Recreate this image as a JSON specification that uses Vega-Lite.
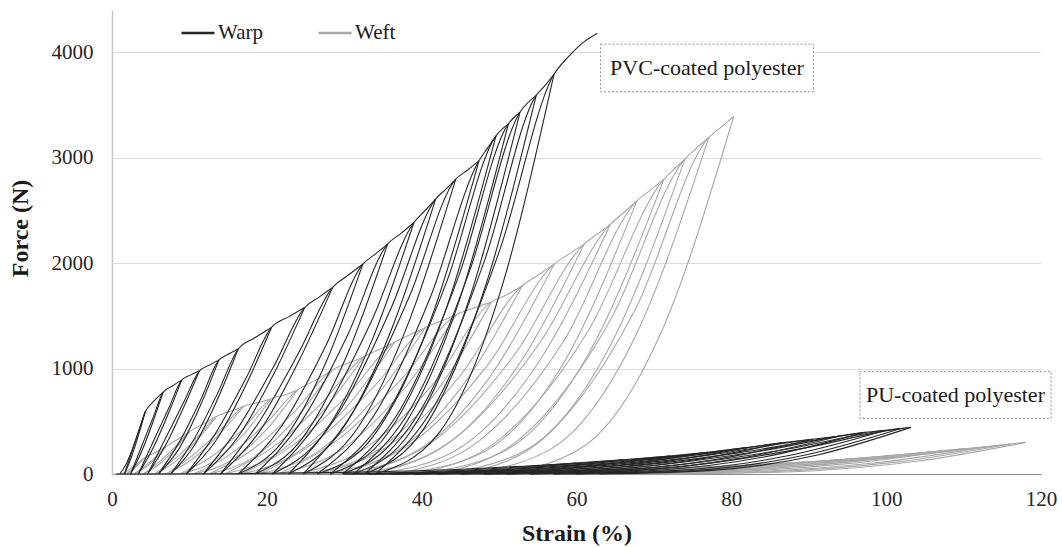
{
"$schema":"https://vega.github.io/schema/vega-lite/v6.json",
"width":929,"height":464,
"autosize":{"type":"none"},
"padding":{"left":112,"top":10,"right":21,"bottom":73},
"background":"white",
"config":{"view":{"stroke":null},"font":"Liberation Serif"},
"datasets":{"c":[
{"d":"Weft","g":"BL1","x":1.2,"y":0},{"d":"Weft","g":"BL1","x":2.0,"y":30},{"d":"Weft","g":"BL1","x":3.0,"y":80},{"d":"Weft","g":"BL1","x":4.0,"y":140},
{"d":"Weft","g":"BU1","x":1.8,"y":0},{"d":"Weft","g":"BU1","x":2.57,"y":32},{"d":"Weft","g":"BU1","x":3.34,"y":85},{"d":"Weft","g":"BU1","x":4.0,"y":140},
{"d":"Weft","g":"BL2","x":1.8,"y":0},{"d":"Weft","g":"BL2","x":2.57,"y":40},{"d":"Weft","g":"BL2","x":3.34,"y":91},{"d":"Weft","g":"BL2","x":4.0,"y":140},{"d":"Weft","g":"BL2","x":5.5,"y":200},{"d":"Weft","g":"BL2","x":7.0,"y":260},
{"d":"Weft","g":"BU2","x":2.8,"y":0},{"d":"Weft","g":"BU2","x":4.27,"y":60},{"d":"Weft","g":"BU2","x":5.74,"y":158},{"d":"Weft","g":"BU2","x":7.0,"y":260},
{"d":"Weft","g":"BL3","x":2.8,"y":0},{"d":"Weft","g":"BL3","x":4.27,"y":74},{"d":"Weft","g":"BL3","x":5.74,"y":170},{"d":"Weft","g":"BL3","x":7.0,"y":260},{"d":"Weft","g":"BL3","x":8.5,"y":330},{"d":"Weft","g":"BL3","x":10.0,"y":400},
{"d":"Weft","g":"BU3","x":4.0,"y":0},{"d":"Weft","g":"BU3","x":6.1,"y":92},{"d":"Weft","g":"BU3","x":8.2,"y":243},{"d":"Weft","g":"BU3","x":10.0,"y":400},
{"d":"Weft","g":"BL4","x":4.0,"y":0},{"d":"Weft","g":"BL4","x":6.1,"y":114},{"d":"Weft","g":"BL4","x":8.2,"y":261},{"d":"Weft","g":"BL4","x":10.0,"y":400},{"d":"Weft","g":"BL4","x":11.8,"y":475},{"d":"Weft","g":"BL4","x":13.5,"y":545},
{"d":"Weft","g":"BU4","x":5.5,"y":0},{"d":"Weft","g":"BU4","x":8.3,"y":125},{"d":"Weft","g":"BU4","x":11.1,"y":331},{"d":"Weft","g":"BU4","x":13.5,"y":545},
{"d":"Weft","g":"BL5","x":5.5,"y":0},{"d":"Weft","g":"BL5","x":8.3,"y":155},{"d":"Weft","g":"BL5","x":11.1,"y":355},{"d":"Weft","g":"BL5","x":13.5,"y":545},{"d":"Weft","g":"BL5","x":15.3,"y":595},{"d":"Weft","g":"BL5","x":17.0,"y":640},
{"d":"Weft","g":"BU5","x":7.0,"y":0},{"d":"Weft","g":"BU5","x":10.5,"y":147},{"d":"Weft","g":"BU5","x":14.0,"y":388},{"d":"Weft","g":"BU5","x":17.0,"y":640},
{"d":"Weft","g":"BL6","x":7.0,"y":0},{"d":"Weft","g":"BL6","x":10.5,"y":182},{"d":"Weft","g":"BL6","x":14.0,"y":417},{"d":"Weft","g":"BL6","x":17.0,"y":640},{"d":"Weft","g":"BL6","x":18.8,"y":675},{"d":"Weft","g":"BL6","x":20.5,"y":710},
{"d":"Weft","g":"BU6","x":8.7,"y":0},{"d":"Weft","g":"BU6","x":12.83,"y":107},{"d":"Weft","g":"BU6","x":16.96,"y":373},{"d":"Weft","g":"BU6","x":20.5,"y":710},
{"d":"Weft","g":"BL7","x":8.7,"y":0},{"d":"Weft","g":"BL7","x":12.83,"y":163},{"d":"Weft","g":"BL7","x":16.96,"y":431},{"d":"Weft","g":"BL7","x":20.5,"y":710},{"d":"Weft","g":"BL7","x":22.3,"y":750},{"d":"Weft","g":"BL7","x":24.0,"y":800},
{"d":"Weft","g":"BU7","x":10.5,"y":0},{"d":"Weft","g":"BU7","x":15.23,"y":121},{"d":"Weft","g":"BU7","x":19.95,"y":421},{"d":"Weft","g":"BU7","x":24.0,"y":800},
{"d":"Weft","g":"BL8","x":10.5,"y":0},{"d":"Weft","g":"BL8","x":15.23,"y":184},{"d":"Weft","g":"BL8","x":19.95,"y":486},{"d":"Weft","g":"BL8","x":24.0,"y":800},{"d":"Weft","g":"BL8","x":26.3,"y":890},{"d":"Weft","g":"BL8","x":28.5,"y":990},
{"d":"Weft","g":"BU8","x":12.5,"y":0},{"d":"Weft","g":"BU8","x":18.1,"y":150},{"d":"Weft","g":"BU8","x":23.7,"y":521},{"d":"Weft","g":"BU8","x":28.5,"y":990},
{"d":"Weft","g":"BL9","x":12.5,"y":0},{"d":"Weft","g":"BL9","x":18.1,"y":228},{"d":"Weft","g":"BL9","x":23.7,"y":601},{"d":"Weft","g":"BL9","x":28.5,"y":990},{"d":"Weft","g":"BL9","x":30.5,"y":1050},{"d":"Weft","g":"BL9","x":32.5,"y":1110},
{"d":"Weft","g":"BU9","x":14.5,"y":0},{"d":"Weft","g":"BU9","x":20.8,"y":168},{"d":"Weft","g":"BU9","x":27.1,"y":584},{"d":"Weft","g":"BU9","x":32.5,"y":1110},
{"d":"Weft","g":"BL10","x":14.5,"y":0},{"d":"Weft","g":"BL10","x":20.8,"y":255},{"d":"Weft","g":"BL10","x":27.1,"y":674},{"d":"Weft","g":"BL10","x":32.5,"y":1110},{"d":"Weft","g":"BL10","x":34.5,"y":1180},{"d":"Weft","g":"BL10","x":36.5,"y":1250},
{"d":"Weft","g":"BU10","x":16.7,"y":0},{"d":"Weft","g":"BU10","x":23.63,"y":189},{"d":"Weft","g":"BU10","x":30.56,"y":658},{"d":"Weft","g":"BU10","x":36.5,"y":1250},
{"d":"Weft","g":"BL11","x":16.7,"y":0},{"d":"Weft","g":"BL11","x":23.63,"y":288},{"d":"Weft","g":"BL11","x":30.56,"y":759},{"d":"Weft","g":"BL11","x":36.5,"y":1250},{"d":"Weft","g":"BL11","x":38.5,"y":1320},{"d":"Weft","g":"BL11","x":40.5,"y":1390},
{"d":"Weft","g":"BU11","x":19.0,"y":0},{"d":"Weft","g":"BU11","x":26.53,"y":210},{"d":"Weft","g":"BU11","x":34.05,"y":731},{"d":"Weft","g":"BU11","x":40.5,"y":1390},
{"d":"Weft","g":"BL12","x":19.0,"y":0},{"d":"Weft","g":"BL12","x":26.53,"y":320},{"d":"Weft","g":"BL12","x":34.05,"y":844},{"d":"Weft","g":"BL12","x":40.5,"y":1390},{"d":"Weft","g":"BL12","x":42.5,"y":1450},{"d":"Weft","g":"BL12","x":44.5,"y":1510},
{"d":"Weft","g":"BU12","x":21.5,"y":0},{"d":"Weft","g":"BU12","x":29.55,"y":228},{"d":"Weft","g":"BU12","x":37.6,"y":794},{"d":"Weft","g":"BU12","x":44.5,"y":1510},
{"d":"Weft","g":"BL13","x":21.5,"y":0},{"d":"Weft","g":"BL13","x":29.55,"y":347},{"d":"Weft","g":"BL13","x":37.6,"y":917},{"d":"Weft","g":"BL13","x":44.5,"y":1510},{"d":"Weft","g":"BL13","x":46.8,"y":1575},{"d":"Weft","g":"BL13","x":49.0,"y":1630},
{"d":"Weft","g":"BU13","x":24.0,"y":0},{"d":"Weft","g":"BU13","x":32.75,"y":161},{"d":"Weft","g":"BU13","x":41.5,"y":743},{"d":"Weft","g":"BU13","x":49.0,"y":1630},
{"d":"Weft","g":"BL14","x":24.0,"y":0},{"d":"Weft","g":"BL14","x":32.75,"y":246},{"d":"Weft","g":"BL14","x":41.5,"y":857},{"d":"Weft","g":"BL14","x":49.0,"y":1630},{"d":"Weft","g":"BL14","x":51.0,"y":1700},{"d":"Weft","g":"BL14","x":53.0,"y":1785},
{"d":"Weft","g":"BU14","x":26.5,"y":0},{"d":"Weft","g":"BU14","x":35.78,"y":177},{"d":"Weft","g":"BU14","x":45.05,"y":814},{"d":"Weft","g":"BU14","x":53.0,"y":1785},
{"d":"Weft","g":"BL15","x":26.5,"y":0},{"d":"Weft","g":"BL15","x":35.78,"y":270},{"d":"Weft","g":"BL15","x":45.05,"y":939},{"d":"Weft","g":"BL15","x":53.0,"y":1785},{"d":"Weft","g":"BL15","x":55.0,"y":1885},{"d":"Weft","g":"BL15","x":57.1,"y":1990},
{"d":"Weft","g":"BU15","x":29.0,"y":0},{"d":"Weft","g":"BU15","x":38.84,"y":197},{"d":"Weft","g":"BU15","x":48.67,"y":907},{"d":"Weft","g":"BU15","x":57.1,"y":1990},
{"d":"Weft","g":"BL16","x":29.0,"y":0},{"d":"Weft","g":"BL16","x":38.84,"y":300},{"d":"Weft","g":"BL16","x":48.67,"y":1047},{"d":"Weft","g":"BL16","x":57.1,"y":1990},{"d":"Weft","g":"BL16","x":59.0,"y":2085},{"d":"Weft","g":"BL16","x":61.0,"y":2180},
{"d":"Weft","g":"BU16","x":31.5,"y":0},{"d":"Weft","g":"BU16","x":41.83,"y":216},{"d":"Weft","g":"BU16","x":52.15,"y":994},{"d":"Weft","g":"BU16","x":61.0,"y":2180},
{"d":"Weft","g":"BL17","x":31.5,"y":0},{"d":"Weft","g":"BL17","x":41.83,"y":329},{"d":"Weft","g":"BL17","x":52.15,"y":1147},{"d":"Weft","g":"BL17","x":61.0,"y":2180},{"d":"Weft","g":"BL17","x":62.7,"y":2275},{"d":"Weft","g":"BL17","x":64.4,"y":2370},
{"d":"Weft","g":"BU17","x":34.0,"y":0},{"d":"Weft","g":"BU17","x":44.64,"y":235},{"d":"Weft","g":"BU17","x":55.28,"y":1081},{"d":"Weft","g":"BU17","x":64.4,"y":2370},
{"d":"Weft","g":"BL18","x":34.0,"y":0},{"d":"Weft","g":"BL18","x":44.64,"y":358},{"d":"Weft","g":"BL18","x":55.28,"y":1247},{"d":"Weft","g":"BL18","x":64.4,"y":2370},{"d":"Weft","g":"BL18","x":66.1,"y":2480},{"d":"Weft","g":"BL18","x":67.8,"y":2590},
{"d":"Weft","g":"BU18","x":36.5,"y":0},{"d":"Weft","g":"BU18","x":47.46,"y":188},{"d":"Weft","g":"BU18","x":58.41,"y":1062},{"d":"Weft","g":"BU18","x":67.8,"y":2590},
{"d":"Weft","g":"BL19","x":36.5,"y":0},{"d":"Weft","g":"BL19","x":47.46,"y":317},{"d":"Weft","g":"BL19","x":58.41,"y":1269},{"d":"Weft","g":"BL19","x":67.8,"y":2590},{"d":"Weft","g":"BL19","x":69.5,"y":2690},{"d":"Weft","g":"BL19","x":71.3,"y":2796},
{"d":"Weft","g":"BU19","x":39.0,"y":0},{"d":"Weft","g":"BU19","x":50.31,"y":203},{"d":"Weft","g":"BU19","x":61.61,"y":1146},{"d":"Weft","g":"BU19","x":71.3,"y":2796},
{"d":"Weft","g":"BL20","x":39.0,"y":0},{"d":"Weft","g":"BL20","x":50.31,"y":343},{"d":"Weft","g":"BL20","x":61.61,"y":1370},{"d":"Weft","g":"BL20","x":71.3,"y":2796},{"d":"Weft","g":"BL20","x":72.6,"y":2890},{"d":"Weft","g":"BL20","x":74.0,"y":2986},
{"d":"Weft","g":"BU20","x":42.0,"y":0},{"d":"Weft","g":"BU20","x":53.2,"y":216},{"d":"Weft","g":"BU20","x":64.4,"y":1224},{"d":"Weft","g":"BU20","x":74.0,"y":2986},
{"d":"Weft","g":"BL21","x":42.0,"y":0},{"d":"Weft","g":"BL21","x":53.2,"y":366},{"d":"Weft","g":"BL21","x":64.4,"y":1463},{"d":"Weft","g":"BL21","x":74.0,"y":2986},{"d":"Weft","g":"BL21","x":75.5,"y":3090},{"d":"Weft","g":"BL21","x":77.1,"y":3192},
{"d":"Weft","g":"BU21","x":45.5,"y":0},{"d":"Weft","g":"BU21","x":56.56,"y":231},{"d":"Weft","g":"BU21","x":67.62,"y":1309},{"d":"Weft","g":"BU21","x":77.1,"y":3192},
{"d":"Weft","g":"BL22","x":45.5,"y":0},{"d":"Weft","g":"BL22","x":56.56,"y":391},{"d":"Weft","g":"BL22","x":67.62,"y":1564},{"d":"Weft","g":"BL22","x":77.1,"y":3192},{"d":"Weft","g":"BL22","x":78.7,"y":3290},{"d":"Weft","g":"BL22","x":80.3,"y":3390},
{"d":"Weft","g":"BU22","x":50.0,"y":0},{"d":"Weft","g":"BU22","x":60.61,"y":246},{"d":"Weft","g":"BU22","x":71.21,"y":1390},{"d":"Weft","g":"BU22","x":80.3,"y":3390},
{"d":"Weft","g":"DL1","x":0.5,"y":0},{"d":"Weft","g":"DL1","x":20,"y":3},{"d":"Weft","g":"DL1","x":40,"y":12},{"d":"Weft","g":"DL1","x":60,"y":35},{"d":"Weft","g":"DL1","x":80,"y":75},
{"d":"Weft","g":"DU1","x":40,"y":0},{"d":"Weft","g":"DU1","x":54,"y":5},{"d":"Weft","g":"DU1","x":68,"y":31},{"d":"Weft","g":"DU1","x":80,"y":75},
{"d":"Weft","g":"DL2","x":40,"y":0},{"d":"Weft","g":"DL2","x":54,"y":14},{"d":"Weft","g":"DL2","x":68,"y":42},{"d":"Weft","g":"DL2","x":80,"y":75},{"d":"Weft","g":"DL2","x":88,"y":105},
{"d":"Weft","g":"DU2","x":44,"y":0},{"d":"Weft","g":"DU2","x":59.4,"y":8},{"d":"Weft","g":"DU2","x":74.8,"y":43},{"d":"Weft","g":"DU2","x":88,"y":105},
{"d":"Weft","g":"DL3","x":44,"y":0},{"d":"Weft","g":"DL3","x":59.4,"y":20},{"d":"Weft","g":"DL3","x":74.8,"y":59},{"d":"Weft","g":"DL3","x":88,"y":105},{"d":"Weft","g":"DL3","x":95,"y":140},
{"d":"Weft","g":"DU3","x":48,"y":0},{"d":"Weft","g":"DU3","x":64.45,"y":10},{"d":"Weft","g":"DU3","x":80.9,"y":57},{"d":"Weft","g":"DU3","x":95,"y":140},
{"d":"Weft","g":"DL4","x":48,"y":0},{"d":"Weft","g":"DL4","x":64.45,"y":26},{"d":"Weft","g":"DL4","x":80.9,"y":79},{"d":"Weft","g":"DL4","x":95,"y":140},{"d":"Weft","g":"DL4","x":101,"y":175},
{"d":"Weft","g":"DU4","x":52,"y":0},{"d":"Weft","g":"DU4","x":69.15,"y":13},{"d":"Weft","g":"DU4","x":86.3,"y":72},{"d":"Weft","g":"DU4","x":101,"y":175},
{"d":"Weft","g":"DL5","x":52,"y":0},{"d":"Weft","g":"DL5","x":69.15,"y":33},{"d":"Weft","g":"DL5","x":86.3,"y":99},{"d":"Weft","g":"DL5","x":101,"y":175},{"d":"Weft","g":"DL5","x":106,"y":210},
{"d":"Weft","g":"DU5","x":56,"y":0},{"d":"Weft","g":"DU5","x":73.5,"y":15},{"d":"Weft","g":"DU5","x":91,"y":86},{"d":"Weft","g":"DU5","x":106,"y":210},
{"d":"Weft","g":"DL6","x":56,"y":0},{"d":"Weft","g":"DL6","x":73.5,"y":39},{"d":"Weft","g":"DL6","x":91,"y":119},{"d":"Weft","g":"DL6","x":106,"y":210},{"d":"Weft","g":"DL6","x":110,"y":240},
{"d":"Weft","g":"DU6","x":60,"y":0},{"d":"Weft","g":"DU6","x":77.5,"y":17},{"d":"Weft","g":"DU6","x":95,"y":98},{"d":"Weft","g":"DU6","x":110,"y":240},
{"d":"Weft","g":"DL7","x":60,"y":0},{"d":"Weft","g":"DL7","x":77.5,"y":45},{"d":"Weft","g":"DL7","x":95,"y":136},{"d":"Weft","g":"DL7","x":110,"y":240},{"d":"Weft","g":"DL7","x":113.5,"y":262},
{"d":"Weft","g":"DU7","x":64,"y":0},{"d":"Weft","g":"DU7","x":81.33,"y":19},{"d":"Weft","g":"DU7","x":98.65,"y":107},{"d":"Weft","g":"DU7","x":113.5,"y":262},
{"d":"Weft","g":"DL8","x":64,"y":0},{"d":"Weft","g":"DL8","x":81.33,"y":49},{"d":"Weft","g":"DL8","x":98.65,"y":148},{"d":"Weft","g":"DL8","x":113.5,"y":262},{"d":"Weft","g":"DL8","x":116.1,"y":285},
{"d":"Weft","g":"DU8","x":68,"y":0},{"d":"Weft","g":"DU8","x":84.84,"y":21},{"d":"Weft","g":"DU8","x":101.67,"y":117},{"d":"Weft","g":"DU8","x":116.1,"y":285},
{"d":"Weft","g":"DL9","x":68,"y":0},{"d":"Weft","g":"DL9","x":84.84,"y":53},{"d":"Weft","g":"DL9","x":101.67,"y":161},{"d":"Weft","g":"DL9","x":116.1,"y":285},{"d":"Weft","g":"DL9","x":118,"y":300},
{"d":"Weft","g":"DU9","x":72,"y":0},{"d":"Weft","g":"DU9","x":88.1,"y":22},{"d":"Weft","g":"DU9","x":104.2,"y":123},{"d":"Weft","g":"DU9","x":118,"y":300},
{"d":"Warp","g":"AL1","x":1.0,"y":0},{"d":"Warp","g":"AL1","x":1.8,"y":90},{"d":"Warp","g":"AL1","x":2.6,"y":230},{"d":"Warp","g":"AL1","x":3.4,"y":400},{"d":"Warp","g":"AL1","x":4.3,"y":590},
{"d":"Warp","g":"AU1","x":1.6,"y":0},{"d":"Warp","g":"AU1","x":2.55,"y":168},{"d":"Warp","g":"AU1","x":3.49,"y":385},{"d":"Warp","g":"AU1","x":4.3,"y":590},
{"d":"Warp","g":"AL2","x":1.6,"y":0},{"d":"Warp","g":"AL2","x":2.55,"y":207},{"d":"Warp","g":"AL2","x":3.49,"y":413},{"d":"Warp","g":"AL2","x":4.3,"y":590},{"d":"Warp","g":"AL2","x":5.4,"y":690},{"d":"Warp","g":"AL2","x":6.6,"y":774},
{"d":"Warp","g":"AU2","x":2.4,"y":0},{"d":"Warp","g":"AU2","x":3.87,"y":220},{"d":"Warp","g":"AU2","x":5.34,"y":505},{"d":"Warp","g":"AU2","x":6.6,"y":774},
{"d":"Warp","g":"AL3","x":2.4,"y":0},{"d":"Warp","g":"AL3","x":3.87,"y":271},{"d":"Warp","g":"AL3","x":5.34,"y":542},{"d":"Warp","g":"AL3","x":6.6,"y":774},{"d":"Warp","g":"AL3","x":7.8,"y":835},{"d":"Warp","g":"AL3","x":9.0,"y":890},
{"d":"Warp","g":"AU3","x":3.4,"y":0},{"d":"Warp","g":"AU3","x":5.36,"y":253},{"d":"Warp","g":"AU3","x":7.32,"y":580},{"d":"Warp","g":"AU3","x":9.0,"y":890},
{"d":"Warp","g":"AL4","x":3.4,"y":0},{"d":"Warp","g":"AL4","x":5.36,"y":312},{"d":"Warp","g":"AL4","x":7.32,"y":623},{"d":"Warp","g":"AL4","x":9.0,"y":890},{"d":"Warp","g":"AL4","x":10.2,"y":940},{"d":"Warp","g":"AL4","x":11.3,"y":979},
{"d":"Warp","g":"AU4","x":4.6,"y":0},{"d":"Warp","g":"AU4","x":6.95,"y":278},{"d":"Warp","g":"AU4","x":9.29,"y":638},{"d":"Warp","g":"AU4","x":11.3,"y":979},
{"d":"Warp","g":"AL5","x":4.6,"y":0},{"d":"Warp","g":"AL5","x":6.95,"y":343},{"d":"Warp","g":"AL5","x":9.29,"y":685},{"d":"Warp","g":"AL5","x":11.3,"y":979},{"d":"Warp","g":"AL5","x":12.5,"y":1030},{"d":"Warp","g":"AL5","x":13.8,"y":1080},
{"d":"Warp","g":"AU5","x":6.0,"y":0},{"d":"Warp","g":"AU5","x":8.73,"y":248},{"d":"Warp","g":"AU5","x":11.46,"y":656},{"d":"Warp","g":"AU5","x":13.8,"y":1080},
{"d":"Warp","g":"AL6","x":6.0,"y":0},{"d":"Warp","g":"AL6","x":8.73,"y":307},{"d":"Warp","g":"AL6","x":11.46,"y":704},{"d":"Warp","g":"AL6","x":13.8,"y":1080},{"d":"Warp","g":"AL6","x":15.0,"y":1135},{"d":"Warp","g":"AL6","x":16.3,"y":1185},
{"d":"Warp","g":"AU6","x":7.6,"y":0},{"d":"Warp","g":"AU6","x":10.65,"y":273},{"d":"Warp","g":"AU6","x":13.69,"y":719},{"d":"Warp","g":"AU6","x":16.3,"y":1185},
{"d":"Warp","g":"AL7","x":7.6,"y":0},{"d":"Warp","g":"AL7","x":10.65,"y":337},{"d":"Warp","g":"AL7","x":13.69,"y":773},{"d":"Warp","g":"AL7","x":16.3,"y":1185},{"d":"Warp","g":"AL7","x":18.4,"y":1290},{"d":"Warp","g":"AL7","x":20.6,"y":1390},
{"d":"Warp","g":"AU7","x":9.6,"y":0},{"d":"Warp","g":"AU7","x":13.45,"y":320},{"d":"Warp","g":"AU7","x":17.3,"y":844},{"d":"Warp","g":"AU7","x":20.6,"y":1390},
{"d":"Warp","g":"AL8","x":9.6,"y":0},{"d":"Warp","g":"AL8","x":13.45,"y":395},{"d":"Warp","g":"AL8","x":17.3,"y":906},{"d":"Warp","g":"AL8","x":20.6,"y":1390},{"d":"Warp","g":"AL8","x":22.8,"y":1490},{"d":"Warp","g":"AL8","x":24.9,"y":1580},
{"d":"Warp","g":"AU8","x":11.8,"y":0},{"d":"Warp","g":"AU8","x":16.39,"y":363},{"d":"Warp","g":"AU8","x":20.97,"y":959},{"d":"Warp","g":"AU8","x":24.9,"y":1580},
{"d":"Warp","g":"AL9","x":11.8,"y":0},{"d":"Warp","g":"AL9","x":16.39,"y":449},{"d":"Warp","g":"AL9","x":20.97,"y":1030},{"d":"Warp","g":"AL9","x":24.9,"y":1580},{"d":"Warp","g":"AL9","x":26.7,"y":1675},{"d":"Warp","g":"AL9","x":28.5,"y":1770},
{"d":"Warp","g":"AU9","x":14.0,"y":0},{"d":"Warp","g":"AU9","x":19.08,"y":407},{"d":"Warp","g":"AU9","x":24.15,"y":1074},{"d":"Warp","g":"AU9","x":28.5,"y":1770},
{"d":"Warp","g":"AL10","x":14.0,"y":0},{"d":"Warp","g":"AL10","x":19.08,"y":503},{"d":"Warp","g":"AL10","x":24.15,"y":1154},{"d":"Warp","g":"AL10","x":28.5,"y":1770},{"d":"Warp","g":"AL10","x":30.4,"y":1880},{"d":"Warp","g":"AL10","x":32.4,"y":1990},
{"d":"Warp","g":"AU10","x":16.3,"y":0},{"d":"Warp","g":"AU10","x":21.94,"y":300},{"d":"Warp","g":"AU10","x":27.57,"y":1047},{"d":"Warp","g":"AU10","x":32.4,"y":1990},
{"d":"Warp","g":"AL11","x":16.3,"y":0},{"d":"Warp","g":"AL11","x":21.94,"y":458},{"d":"Warp","g":"AL11","x":27.57,"y":1208},{"d":"Warp","g":"AL11","x":32.4,"y":1990},{"d":"Warp","g":"AL11","x":34.0,"y":2085},{"d":"Warp","g":"AL11","x":35.6,"y":2180},
{"d":"Warp","g":"AU11","x":18.5,"y":0},{"d":"Warp","g":"AU11","x":24.49,"y":329},{"d":"Warp","g":"AU11","x":30.47,"y":1147},{"d":"Warp","g":"AU11","x":35.6,"y":2180},
{"d":"Warp","g":"AL12","x":18.5,"y":0},{"d":"Warp","g":"AL12","x":24.49,"y":501},{"d":"Warp","g":"AL12","x":30.47,"y":1323},{"d":"Warp","g":"AL12","x":35.6,"y":2180},{"d":"Warp","g":"AL12","x":37.3,"y":2280},{"d":"Warp","g":"AL12","x":39.0,"y":2385},
{"d":"Warp","g":"AU12","x":20.7,"y":0},{"d":"Warp","g":"AU12","x":27.11,"y":360},{"d":"Warp","g":"AU12","x":33.51,"y":1255},{"d":"Warp","g":"AU12","x":39.0,"y":2385},
{"d":"Warp","g":"AL13","x":20.7,"y":0},{"d":"Warp","g":"AL13","x":27.11,"y":549},{"d":"Warp","g":"AL13","x":33.51,"y":1448},{"d":"Warp","g":"AL13","x":39.0,"y":2385},{"d":"Warp","g":"AL13","x":40.4,"y":2495},{"d":"Warp","g":"AL13","x":41.8,"y":2607},
{"d":"Warp","g":"AU13","x":22.8,"y":0},{"d":"Warp","g":"AU13","x":29.45,"y":394},{"d":"Warp","g":"AU13","x":36.1,"y":1371},{"d":"Warp","g":"AU13","x":41.8,"y":2607},
{"d":"Warp","g":"AL14","x":22.8,"y":0},{"d":"Warp","g":"AL14","x":29.45,"y":600},{"d":"Warp","g":"AL14","x":36.1,"y":1582},{"d":"Warp","g":"AL14","x":41.8,"y":2607},{"d":"Warp","g":"AL14","x":43.1,"y":2700},{"d":"Warp","g":"AL14","x":44.4,"y":2796},
{"d":"Warp","g":"AU14","x":24.7,"y":0},{"d":"Warp","g":"AU14","x":31.6,"y":422},{"d":"Warp","g":"AU14","x":38.49,"y":1471},{"d":"Warp","g":"AU14","x":44.4,"y":2796},
{"d":"Warp","g":"AL15","x":24.7,"y":0},{"d":"Warp","g":"AL15","x":31.6,"y":643},{"d":"Warp","g":"AL15","x":38.49,"y":1697},{"d":"Warp","g":"AL15","x":44.4,"y":2796},{"d":"Warp","g":"AL15","x":45.9,"y":2880},{"d":"Warp","g":"AL15","x":47.4,"y":2970},
{"d":"Warp","g":"AU15","x":26.5,"y":0},{"d":"Warp","g":"AU15","x":33.82,"y":364},{"d":"Warp","g":"AU15","x":41.13,"y":1455},{"d":"Warp","g":"AU15","x":47.4,"y":2970},
{"d":"Warp","g":"AL16","x":26.5,"y":0},{"d":"Warp","g":"AL16","x":33.82,"y":552},{"d":"Warp","g":"AL16","x":41.13,"y":1678},{"d":"Warp","g":"AL16","x":47.4,"y":2970},{"d":"Warp","g":"AL16","x":48.5,"y":3090},{"d":"Warp","g":"AL16","x":49.6,"y":3207},
{"d":"Warp","g":"AU16","x":28.2,"y":0},{"d":"Warp","g":"AU16","x":35.69,"y":393},{"d":"Warp","g":"AU16","x":43.18,"y":1571},{"d":"Warp","g":"AU16","x":49.6,"y":3207},
{"d":"Warp","g":"AL17","x":28.2,"y":0},{"d":"Warp","g":"AL17","x":35.69,"y":597},{"d":"Warp","g":"AL17","x":43.18,"y":1812},{"d":"Warp","g":"AL17","x":49.6,"y":3207},{"d":"Warp","g":"AL17","x":51.2,"y":3320},
{"d":"Warp","g":"AU17","x":29.8,"y":0},{"d":"Warp","g":"AU17","x":37.29,"y":407},{"d":"Warp","g":"AU17","x":44.78,"y":1627},{"d":"Warp","g":"AU17","x":51.2,"y":3320},
{"d":"Warp","g":"AL18","x":29.8,"y":0},{"d":"Warp","g":"AL18","x":37.29,"y":618},{"d":"Warp","g":"AL18","x":44.78,"y":1876},{"d":"Warp","g":"AL18","x":51.2,"y":3320},{"d":"Warp","g":"AL18","x":52.7,"y":3430},
{"d":"Warp","g":"AU18","x":31.2,"y":0},{"d":"Warp","g":"AU18","x":38.73,"y":420},{"d":"Warp","g":"AU18","x":46.25,"y":1681},{"d":"Warp","g":"AU18","x":52.7,"y":3430},
{"d":"Warp","g":"AL19","x":31.2,"y":0},{"d":"Warp","g":"AL19","x":38.73,"y":638},{"d":"Warp","g":"AL19","x":46.25,"y":1938},{"d":"Warp","g":"AL19","x":52.7,"y":3430},{"d":"Warp","g":"AL19","x":54.8,"y":3590},
{"d":"Warp","g":"AU19","x":32.6,"y":0},{"d":"Warp","g":"AU19","x":40.37,"y":440},{"d":"Warp","g":"AU19","x":48.14,"y":1759},{"d":"Warp","g":"AU19","x":54.8,"y":3590},
{"d":"Warp","g":"AL20","x":32.6,"y":0},{"d":"Warp","g":"AL20","x":40.37,"y":668},{"d":"Warp","g":"AL20","x":48.14,"y":2028},{"d":"Warp","g":"AL20","x":54.8,"y":3590},{"d":"Warp","g":"AL20","x":56.0,"y":3690},{"d":"Warp","g":"AL20","x":57.1,"y":3791},
{"d":"Warp","g":"AU20","x":34.0,"y":0},{"d":"Warp","g":"AU20","x":42.09,"y":375},{"d":"Warp","g":"AU20","x":50.17,"y":1729},{"d":"Warp","g":"AU20","x":57.1,"y":3791},
{"d":"Warp","g":"AL21","x":34.0,"y":0},{"d":"Warp","g":"AL21","x":42.09,"y":705},{"d":"Warp","g":"AL21","x":50.17,"y":2142},{"d":"Warp","g":"AL21","x":57.1,"y":3791},{"d":"Warp","g":"AL21","x":59.0,"y":3960},{"d":"Warp","g":"AL21","x":61.0,"y":4100},{"d":"Warp","g":"AL21","x":62.7,"y":4180},
{"d":"Warp","g":"CL1","x":0.5,"y":0},{"d":"Warp","g":"CL1","x":15,"y":3},{"d":"Warp","g":"CL1","x":30,"y":15},{"d":"Warp","g":"CL1","x":45,"y":45},{"d":"Warp","g":"CL1","x":60,"y":105},
{"d":"Warp","g":"CU1","x":30,"y":0},{"d":"Warp","g":"CU1","x":40.5,"y":8},{"d":"Warp","g":"CU1","x":51,"y":43},{"d":"Warp","g":"CU1","x":60,"y":105},
{"d":"Warp","g":"CL2","x":30,"y":0},{"d":"Warp","g":"CL2","x":40.5,"y":20},{"d":"Warp","g":"CL2","x":51,"y":59},{"d":"Warp","g":"CL2","x":60,"y":105},{"d":"Warp","g":"CL2","x":66,"y":135},
{"d":"Warp","g":"CU2","x":33,"y":0},{"d":"Warp","g":"CU2","x":44.55,"y":10},{"d":"Warp","g":"CU2","x":56.1,"y":55},{"d":"Warp","g":"CU2","x":66,"y":135},
{"d":"Warp","g":"CL3","x":33,"y":0},{"d":"Warp","g":"CL3","x":44.55,"y":25},{"d":"Warp","g":"CL3","x":56.1,"y":76},{"d":"Warp","g":"CL3","x":66,"y":135},{"d":"Warp","g":"CL3","x":72,"y":170},
{"d":"Warp","g":"CU3","x":36,"y":0},{"d":"Warp","g":"CU3","x":48.6,"y":12},{"d":"Warp","g":"CU3","x":61.2,"y":70},{"d":"Warp","g":"CU3","x":72,"y":170},
{"d":"Warp","g":"CL4","x":36,"y":0},{"d":"Warp","g":"CL4","x":48.6,"y":32},{"d":"Warp","g":"CL4","x":61.2,"y":96},{"d":"Warp","g":"CL4","x":72,"y":170},{"d":"Warp","g":"CL4","x":77,"y":205},
{"d":"Warp","g":"CU4","x":39,"y":0},{"d":"Warp","g":"CU4","x":52.3,"y":15},{"d":"Warp","g":"CU4","x":65.6,"y":84},{"d":"Warp","g":"CU4","x":77,"y":205},
{"d":"Warp","g":"CL5","x":39,"y":0},{"d":"Warp","g":"CL5","x":52.3,"y":38},{"d":"Warp","g":"CL5","x":65.6,"y":116},{"d":"Warp","g":"CL5","x":77,"y":205},{"d":"Warp","g":"CL5","x":82,"y":250},
{"d":"Warp","g":"CU5","x":42,"y":0},{"d":"Warp","g":"CU5","x":56,"y":18},{"d":"Warp","g":"CU5","x":70,"y":103},{"d":"Warp","g":"CU5","x":82,"y":250},
{"d":"Warp","g":"CL6","x":42,"y":0},{"d":"Warp","g":"CL6","x":56,"y":47},{"d":"Warp","g":"CL6","x":70,"y":141},{"d":"Warp","g":"CL6","x":82,"y":250},{"d":"Warp","g":"CL6","x":86.5,"y":295},
{"d":"Warp","g":"CU6","x":45,"y":0},{"d":"Warp","g":"CU6","x":59.53,"y":21},{"d":"Warp","g":"CU6","x":74.05,"y":121},{"d":"Warp","g":"CU6","x":86.5,"y":295},
{"d":"Warp","g":"CL7","x":45,"y":0},{"d":"Warp","g":"CL7","x":59.53,"y":55},{"d":"Warp","g":"CL7","x":74.05,"y":167},{"d":"Warp","g":"CL7","x":86.5,"y":295},{"d":"Warp","g":"CL7","x":90.5,"y":330},
{"d":"Warp","g":"CU7","x":48,"y":0},{"d":"Warp","g":"CU7","x":62.88,"y":24},{"d":"Warp","g":"CU7","x":77.75,"y":135},{"d":"Warp","g":"CU7","x":90.5,"y":330},
{"d":"Warp","g":"CL8","x":48,"y":0},{"d":"Warp","g":"CL8","x":62.88,"y":61},{"d":"Warp","g":"CL8","x":77.75,"y":186},{"d":"Warp","g":"CL8","x":90.5,"y":330},{"d":"Warp","g":"CL8","x":94,"y":360},
{"d":"Warp","g":"CU8","x":51,"y":0},{"d":"Warp","g":"CU8","x":66.05,"y":26},{"d":"Warp","g":"CU8","x":81.1,"y":148},{"d":"Warp","g":"CU8","x":94,"y":360},
{"d":"Warp","g":"CL9","x":51,"y":0},{"d":"Warp","g":"CL9","x":66.05,"y":67},{"d":"Warp","g":"CL9","x":81.1,"y":203},{"d":"Warp","g":"CL9","x":94,"y":360},{"d":"Warp","g":"CL9","x":97.2,"y":395},
{"d":"Warp","g":"CU9","x":54,"y":0},{"d":"Warp","g":"CU9","x":69.12,"y":29},{"d":"Warp","g":"CU9","x":84.24,"y":162},{"d":"Warp","g":"CU9","x":97.2,"y":395},
{"d":"Warp","g":"CL10","x":54,"y":0},{"d":"Warp","g":"CL10","x":69.12,"y":73},{"d":"Warp","g":"CL10","x":84.24,"y":223},{"d":"Warp","g":"CL10","x":97.2,"y":395},{"d":"Warp","g":"CL10","x":100,"y":415},
{"d":"Warp","g":"CU10","x":57,"y":0},{"d":"Warp","g":"CU10","x":72.05,"y":30},{"d":"Warp","g":"CU10","x":87.1,"y":170},{"d":"Warp","g":"CU10","x":100,"y":415},
{"d":"Warp","g":"CL11","x":57,"y":0},{"d":"Warp","g":"CL11","x":72.05,"y":77},{"d":"Warp","g":"CL11","x":87.1,"y":234},{"d":"Warp","g":"CL11","x":100,"y":415},{"d":"Warp","g":"CL11","x":101.8,"y":430},
{"d":"Warp","g":"CU11","x":60,"y":0},{"d":"Warp","g":"CU11","x":74.63,"y":31},{"d":"Warp","g":"CU11","x":89.26,"y":176},{"d":"Warp","g":"CU11","x":101.8,"y":430},
{"d":"Warp","g":"CL12","x":60,"y":0},{"d":"Warp","g":"CL12","x":74.63,"y":80},{"d":"Warp","g":"CL12","x":89.26,"y":243},{"d":"Warp","g":"CL12","x":101.8,"y":430},{"d":"Warp","g":"CL12","x":103.2,"y":442},
{"d":"Warp","g":"CU12","x":63,"y":0},{"d":"Warp","g":"CU12","x":77.07,"y":32},{"d":"Warp","g":"CU12","x":91.14,"y":181},{"d":"Warp","g":"CU12","x":103.2,"y":442}
]},
"encoding":{
 "x":{"field":"x","type":"quantitative","scale":{"domain":[0,120],"nice":false,"zero":false},
  "axis":{"values":[0,20,40,60,80,100,120],"format":"d","title":"Strain (%)","titleFont":"Liberation Serif","titleFontSize":24,"titleFontWeight":"bold","titleColor":"#1a1a1a","titleY":59,"titleBaseline":"middle","labelFont":"Liberation Serif","labelFontSize":21,"labelColor":"#262626","labelPadding":14,"labelFlush":false,"ticks":false,"grid":false,"domainColor":"#8c8c8c","domainWidth":1}},
 "y":{"field":"y","type":"quantitative","scale":{"domain":[0,4400],"nice":false},
  "axis":{"values":[0,1000,2000,3000,4000],"format":"d","title":"Force (N)","titleFont":"Liberation Serif","titleFontSize":24,"titleFontWeight":"bold","titleColor":"#1a1a1a","titleX":-92,"titleY":218,"titleBaseline":"middle","titleAlign":"center","labelFont":"Liberation Serif","labelFontSize":21,"labelColor":"#262626","labelPadding":19,"ticks":false,"grid":true,"gridColor":"#dcdcdc","gridWidth":1,"domainColor":"#c8c8c8","domainWidth":1.5}}
},
"layer":[
 {"data":{"name":"c"},
  "mark":{"type":"line","interpolate":"monotone","strokeWidth":1.1},
  "encoding":{
   "color":{"field":"d","type":"nominal","scale":{"domain":["Warp","Weft"],"range":["#262626","#a8a8a8"]},
    "legend":{"orient":"none","legendX":68,"legendY":5,"direction":"horizontal","title":null,"symbolType":"stroke","symbolSize":1089,"symbolStrokeWidth":2.5,"labelFont":"Liberation Serif","labelFontSize":21,"labelColor":"#1a1a1a","labelOffset":2,"columnPadding":50,"padding":0}},
   "detail":{"field":"g","type":"nominal"}}},
 {"data":{"values":[{"x":63.1,"x2":90.6,"y":3624,"y2":4076},{"x":96.6,"x2":121.3,"y":528,"y2":970}]},
  "mark":{"type":"rect","fill":"white","stroke":"#8c8c8c","strokeWidth":1,"strokeDash":[2,2]},
  "encoding":{"x2":{"field":"x2"},"y2":{"field":"y2"}}},
 {"data":{"values":[{"x":76.85,"y":3850,"t":"PVC-coated polyester"},{"x":108.95,"y":749,"t":"PU-coated polyester"}]},
  "mark":{"type":"text","font":"Liberation Serif","fontSize":22,"color":"#1a1a1a","align":"center","baseline":"middle"},
  "encoding":{"text":{"field":"t"}}}
]
}
